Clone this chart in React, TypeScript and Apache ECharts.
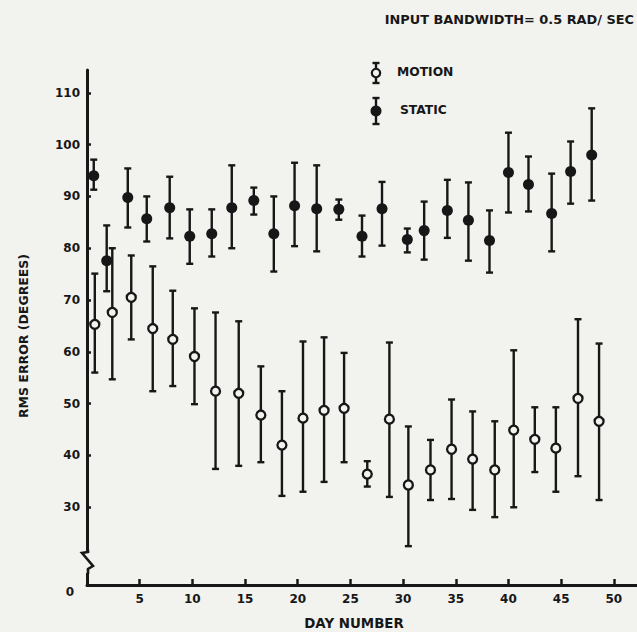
import React, { useEffect, useRef } from "react";
import * as echarts from "echarts";

// ---- Data ----
const staticDays = [0.64, 1.87, 3.87, 5.67, 7.85, 9.75, 11.84, 13.74, 15.83, 17.73, 19.7, 21.8, 23.9, 26.1, 28.0, 30.4, 32.0, 34.2, 36.2, 38.2, 40.0, 41.9, 44.1, 45.9, 47.9];
const staticMean = [94, 77.6, 89.8, 85.7, 87.8, 82.3, 82.8, 87.8, 89.2, 82.8, 88.2, 87.6, 87.5, 82.3, 87.6, 81.7, 83.4, 87.3, 85.4, 81.5, 94.6, 92.3, 86.7, 94.8, 98];
const staticHigh = [97.1, 84.4, 95.4, 90, 93.8, 87.5, 87.5, 96, 91.7, 90, 96.5, 96, 89.4, 86.3, 92.8, 83.8, 89, 93.2, 92.7, 87.3, 102.3, 97.7, 94.4, 100.6, 107];
const staticLow = [91.3, 71.7, 84.0, 81.3, 81.9, 77, 78.4, 80, 86.5, 75.5, 80.4, 79.4, 85.5, 78.4, 80.5, 79.2, 77.8, 82, 77.6, 75.3, 86.9, 87.1, 79.4, 88.6, 89.2];

const motionDays = [0.74, 2.4, 4.2, 6.24, 8.14, 10.2, 12.2, 14.4, 16.5, 18.5, 20.5, 22.5, 24.4, 26.6, 28.7, 30.5, 32.6, 34.6, 36.6, 38.7, 40.5, 42.5, 44.5, 46.6, 48.6];
const motionMean = [65.3, 67.6, 70.5, 64.5, 62.4, 59.1, 52.4, 52, 47.8, 42, 47.2, 48.7, 49.1, 36.4, 47, 34.3, 37.2, 41.2, 39.3, 37.2, 44.9, 43.1, 41.4, 51, 46.6];
const motionHigh = [75.1, 80, 78.6, 76.5, 71.8, 68.4, 67.6, 65.9, 57.2, 52.4, 62, 62.8, 59.8, 38.9, 61.8, 45.6, 43, 50.8, 48.5, 46.6, 60.3, 49.3, 49.3, 66.3, 61.6];
const motionLow = [56, 54.7, 62.4, 52.4, 53.4, 49.9, 37.4, 38, 38.7, 32.2, 33, 34.9, 38.7, 34, 32, 22.5, 31.4, 31.6, 29.5, 28.1, 30, 36.8, 33, 36, 31.4];

const xTicks = [5, 10, 15, 20, 25, 30, 35, 40, 45, 50];
const yTicks = [30, 40, 50, 60, 70, 80, 90, 100, 110];
const yAxisFloor = 15; // broken axis: this position is labelled "0"

const TITLE = "INPUT BANDWIDTH= 0.5 RAD/ SEC";
const X_NAME = "DAY NUMBER";
const Y_NAME = "RMS ERROR (DEGREES)";
const SERIES_NAMES = ["MOTION", "STATIC"];

const INK = "#171717";
const BG = "#f2f2ef";
const FONT = '"DejaVu Sans", "Liberation Sans", Arial, sans-serif';

export default function App() {
  const ref = useRef<HTMLDivElement>(null);

  useEffect(() => {
    const el = ref.current!;
    const chart = echarts.init(el, null, { renderer: "svg" });

    const errorSeries = (name: string, days: number[], low: number[], high: number[]) => ({
      type: "custom",
      name,
      silent: true,
      z: 2,
      data: days.map((d, i) => [d, low[i], high[i]]),
      encode: { x: 0, y: [1, 2] },
      renderItem: (_p: any, api: any) => {
        const x = api.value(0);
        const lo = api.coord([x, api.value(1)]);
        const hi = api.coord([x, api.value(2)]);
        const cap = 3.5;
        const st = { stroke: INK, lineWidth: 2.4 };
        return {
          type: "group",
          children: [
            { type: "line", shape: { x1: lo[0], y1: lo[1], x2: hi[0], y2: hi[1] }, style: st },
            { type: "line", shape: { x1: hi[0] - cap, y1: hi[1], x2: hi[0] + cap, y2: hi[1] }, style: st },
            { type: "line", shape: { x1: lo[0] - cap, y1: lo[1], x2: lo[0] + cap, y2: lo[1] }, style: st },
          ],
        };
      },
    });

    const labelStyle = { color: INK, fontWeight: "bold", fontSize: 12, fontFamily: FONT };

    chart.setOption({
      animation: false,
      backgroundColor: BG,
      grid: { left: 87, right: 0, top: 70, bottom: 47, containLabel: false, outerBoundsMode: "none" },
      xAxis: {
        type: "value",
        min: 0,
        max: 52.2,
        axisLine: { lineStyle: { color: INK, width: 3 } },
        axisTick: { inside: true, length: 6, lineStyle: { color: INK, width: 2.5 }, customValues: xTicks },
        axisLabel: { ...labelStyle, margin: 8, customValues: xTicks },
        splitLine: { show: false },
      },
      yAxis: {
        type: "value",
        min: yAxisFloor,
        max: 114.4,
        axisLine: { show: true, lineStyle: { color: INK, width: 3 } },
        axisTick: { show: true, inside: true, length: 4, lineStyle: { color: INK, width: 2.5 }, customValues: yTicks },
        axisLabel: { ...labelStyle, margin: 7, customValues: yTicks },
        splitLine: { show: false },
      },
      series: [
        errorSeries(SERIES_NAMES[0] + " range", motionDays, motionLow, motionHigh),
        errorSeries(SERIES_NAMES[1] + " range", staticDays, staticLow, staticHigh),
        {
          type: "scatter",
          name: SERIES_NAMES[0],
          z: 3,
          symbol: "circle",
          symbolSize: 9,
          itemStyle: { color: BG, borderColor: INK, borderWidth: 2.3, opacity: 1 },
          data: motionDays.map((d, i) => [d, motionMean[i]]),
        },
        {
          type: "scatter",
          name: SERIES_NAMES[1],
          z: 3,
          symbol: "circle",
          symbolSize: 11,
          itemStyle: { color: INK, opacity: 1 },
          data: staticDays.map((d, i) => [d, staticMean[i]]),
        },
      ],
    });

    // decorations: axis break, "0" label, texts, legend
    const p0 = chart.convertToPixel({ gridIndex: 0 }, [0, yAxisFloor]) as number[];
    const ax = p0[0];
    const ay = p0[1];
    const brkTop = ay - 34;
    const txt = (text: string, x: number, y: number, size: number, align = "left", rotation = 0) => ({
      type: "text",
      x,
      y,
      rotation,
      z: 10,
      style: { text, fill: INK, font: `bold ${size}px ${FONT}`, align, verticalAlign: "middle" },
    });
    const legendItem = (cx: number, cy: number, half: number, filled: boolean, label: string, lx: number) => ({
      type: "group",
      children: [
        { type: "line", shape: { x1: cx, y1: cy - half, x2: cx, y2: cy + half }, style: { stroke: INK, lineWidth: 2.4 } },
        { type: "line", shape: { x1: cx - 3.5, y1: cy - half, x2: cx + 3.5, y2: cy - half }, style: { stroke: INK, lineWidth: 2.4 } },
        { type: "line", shape: { x1: cx - 3.5, y1: cy + half, x2: cx + 3.5, y2: cy + half }, style: { stroke: INK, lineWidth: 2.4 } },
        filled
          ? { type: "circle", shape: { cx, cy, r: 5.5 }, style: { fill: INK } }
          : { type: "circle", shape: { cx, cy, r: 4.2 }, style: { fill: BG, stroke: INK, lineWidth: 2.2 } },
        txt(label, lx, cy - 1, 12.3),
      ],
    });

    chart.setOption({
      graphic: [
        { type: "rect", z: 20, shape: { x: ax - 8, y: brkTop, width: 16, height: 22 }, style: { fill: BG } },
        {
          type: "polyline",
          z: 21,
          shape: {
            points: [
              [ax + 1, brkTop - 1],
              [ax + 1, brkTop + 1],
              [ax - 5, brkTop + 2],
              [ax + 6, brkTop + 15],
              [ax + 1, brkTop + 18],
              [ax + 1, brkTop + 23],
            ],
          },
          style: { stroke: INK, lineWidth: 2.6, fill: null },
        },
        txt("0", ax - 17, ay + 7, 12, "center"),
        txt(TITLE, 634, 19, 12.9, "right"),
        txt(X_NAME, 354, 623, 13.4, "center"),
        txt(Y_NAME, 23, 336, 12.5, "center", Math.PI / 2),
        legendItem(376, 73, 10, false, SERIES_NAMES[0], 397),
        legendItem(376, 111, 13, true, SERIES_NAMES[1], 400),
      ],
    });

    return () => chart.dispose();
  }, []);

  return (
    <div
      ref={ref}
      style={{ position: "fixed", left: 0, top: 0, width: 637, height: 632, background: BG }}
    />
  );
}
